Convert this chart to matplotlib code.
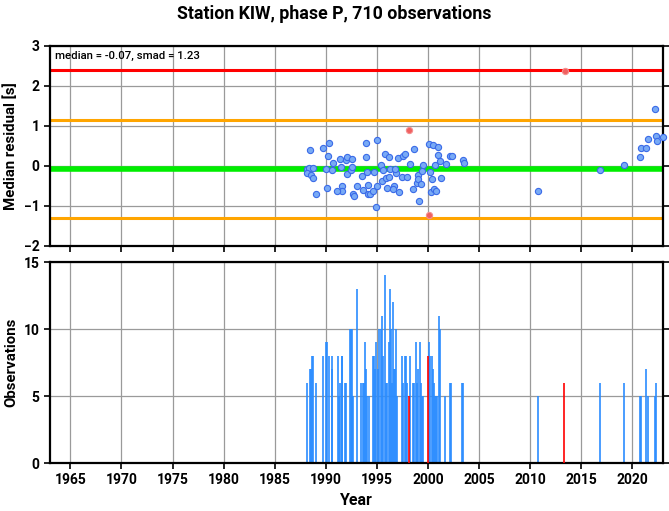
import numpy as np
import matplotlib
matplotlib.use("Agg")
import matplotlib.pyplot as plt

# === Summary values ===
station = "KIW"
phase = "P"
n_obs = 710
median = -0.07
smad = 1.23

# === Median residuals per bin (blue) ===
res_year = [1988.43, 1988.17, 1988.37, 1988.17, 1988.50, 1988.70, 1988.76, 1989.08,
            1989.74, 1990.33, 1990.26, 1990.06, 1990.16, 1990.72, 1990.65, 1991.37,
            1991.44, 1991.63, 1991.54, 1991.14, 1991.96, 1992.03, 1992.09, 1992.52,
            1992.42, 1992.61, 1992.68, 1992.78, 1993.10, 1993.50, 1993.66, 1993.92,
            1993.89, 1994.05, 1994.15, 1994.15, 1994.31, 1994.57, 1994.70, 1994.97,
            1994.87, 1995.03, 1995.36, 1995.55, 1995.46, 1995.78, 1995.88, 1996.14,
            1996.21, 1996.27, 1996.01, 1996.67, 1996.60, 1996.86, 1996.80, 1997.06,
            1997.12, 1997.45, 1997.58, 1997.78, 1997.91, 1998.24, 1998.63, 1998.56,
            1998.89, 1998.99, 1999.05, 1999.15, 1999.31, 1999.38, 1999.54, 2000.13,
            2000.20, 2000.36, 2000.33, 2000.52, 2000.62, 2000.72, 2000.78, 2001.01,
            2000.98, 2001.18, 2001.24, 2001.73, 2002.16, 2002.35, 2003.40, 2003.56,
            2010.76, 2016.87, 2019.22, 2020.79, 2020.85, 2021.31, 2021.57, 2022.23,
            2022.33, 2022.42, 2022.98]
res_val = [0.40, -0.08, -0.06, -0.18, -0.23, -0.04, -0.29, -0.69,
           0.46, 0.58, 0.25, -0.08, -0.54, 0.08, -0.09, 0.17,
           -0.02, -0.49, -0.63, -0.63, 0.15, 0.23, -0.19, 0.18,
           -0.10, -0.03, -0.70, -0.74, -0.49, -0.24, -0.60, 0.58,
           0.23, -0.15, -0.69, -0.48, -0.69, -0.62, -0.15, 0.66,
           -1.02, -0.50, 0.03, -0.09, -0.37, 0.30, -0.29, 0.23,
           -0.27, -0.07, -0.56, -0.49, -0.58, -0.17, -0.08, 0.20,
           -0.64, -0.27, 0.25, 0.30, -0.27, 0.04, 0.43, -0.58,
           -0.43, -0.23, -0.33, -0.87, -0.44, -0.12, 0.03, 0.54,
           -0.15, -0.33, -0.65, 0.52, -0.58, 0.02, -0.62, 0.48,
           0.28, 0.12, -0.29, 0.06, 0.25, 0.25, 0.16, 0.08,
           -0.62, -0.10, 0.03, 0.23, 0.45, 0.46, 0.67, 1.43,
           0.76, 0.62, 0.73]

# === Outlier bins (red) ===
out_year = [1998.10, 2000.06, 2013.40]
out_val = [0.91, -1.22, 2.37]

# === Observation counts per bin ===
cnt_year = [1988.17, 1988.43, 1988.53, 1988.66, 1988.72, 1989.08, 1989.74, 1990.03,
            1990.13, 1990.33, 1990.59, 1990.65, 1991.21, 1991.31, 1991.41, 1991.54,
            1991.63, 1991.90, 1991.96, 1992.35, 1992.45, 1992.52, 1992.61, 1992.68,
            1993.10, 1993.43, 1993.59, 1993.72, 1993.85, 1993.95, 1994.05, 1994.18,
            1994.57, 1994.70, 1994.84, 1994.93, 1995.10, 1995.23, 1995.39, 1995.46,
            1995.62, 1995.78, 1995.88, 1996.01, 1996.14, 1996.27, 1996.34, 1996.44,
            1996.60, 1996.70, 1996.80, 1996.89, 1996.99, 1997.42, 1997.58, 1997.75,
            1997.88, 1997.98, 1998.21, 1998.56, 1998.66, 1998.86, 1998.95, 1999.05,
            1999.21, 1999.28, 1999.44, 1999.54, 2000.13, 2000.20, 2000.36, 2000.46,
            2000.59, 2000.69, 2000.78, 2000.91, 2001.04, 2001.14, 2001.70, 2002.16,
            2002.29, 2003.37, 2003.47, 2010.78, 2016.86, 2019.18, 2020.78, 2020.88,
            2021.33, 2021.56, 2022.25, 2022.35, 2023.00]
cnt_val = [6, 7, 7, 8, 8, 6, 8, 9,
           9, 8, 8, 7, 8, 5, 6, 8,
           8, 6, 6, 10, 10, 10, 5, 5,
           13, 6, 6, 6, 9, 7, 5, 5,
           8, 8, 7, 9, 7, 10, 10, 11,
           8, 14, 6, 6, 9, 13, 10, 6,
           12, 7, 7, 10, 5, 8, 6, 8,
           8, 6, 8, 6, 6, 9, 6, 7,
           9, 6, 5, 5, 9, 8, 8, 7,
           6, 5, 5, 5, 11, 10, 5, 6,
           6, 6, 6, 5, 6, 6, 5, 5,
           7, 5, 5, 6, 5]
out_cnt_year = [1998.10, 2000.00, 2013.36]
out_cnt_val = [5, 8, 6]

plt.rcParams['font.family'] = ['Roboto', 'DejaVu Sans']
plt.rcParams['font.weight'] = 'bold'
plt.rcParams['axes.labelweight'] = 'bold'
plt.rcParams['figure.titleweight'] = 'bold'

fig = plt.figure(figsize=(6.69, 5.11), dpi=100)
ax1 = fig.add_axes([0.0747, 0.5186, 0.9163, 0.3914])
ax2 = fig.add_axes([0.0747, 0.0939, 0.9163, 0.3933])

for ax in (ax1, ax2):
    ax.set_xlim(1963, 2023)
    ax.set_xticks(np.arange(1965, 2021, 5))
    ax.grid(True, color='#9a9a9a', linewidth=0.9)
    ax.set_axisbelow(True)
    for s in ax.spines.values():
        s.set_linewidth(1.6)
    ax.tick_params(direction='out', length=4, width=1.2, right=True,
                   labelsize=10)

# --- top panel ---
ax1.set_ylim(-2, 3)
ax1.set_yticks(np.arange(-2, 4, 1))
ax1.tick_params(labelbottom=False)
ax1.axhline(median + 2 * smad, color='red', linewidth=2.2, zorder=2)
ax1.axhline(median + smad, color='orange', linewidth=2.2, zorder=2)
ax1.axhline(median - smad, color='orange', linewidth=2.2, zorder=2)
ax1.axhline(median, color='#00ee00', linewidth=4, zorder=2)
ax1.scatter(res_year, res_val, s=20, facecolor='#78aaf5', edgecolor='#3a6ae8',
            linewidth=0.8, zorder=3, clip_on=False)
ax1.scatter(out_year, out_val, s=20, facecolor='#f06060', edgecolor='#f49090',
            linewidth=0.8, zorder=3)
ax1.text(0.008, 0.975, f"median = {median:.2f}, smad = {smad:.2f}",
         transform=ax1.transAxes, ha='left', va='top', fontsize=8.2,
         fontweight='medium')
ax1.set_ylabel("Median residual [s]", fontsize=10.8, fontweight='bold')

# --- bottom panel ---
ax2.set_ylim(0, 15)
ax2.set_yticks([0, 5, 10, 15])
ax2.vlines(cnt_year, 0, cnt_val, color='#2a8cff', linewidth=1.4, alpha=0.85, zorder=2)
ax2.vlines(out_cnt_year, 0, out_cnt_val, color='red', linewidth=1.2, zorder=3)
ax2.set_ylabel("Observations", fontsize=10.8, fontweight='bold')
ax2.set_xlabel("Year", fontsize=11.5, fontweight='bold')

for lab in ax1.get_yticklabels() + ax2.get_xticklabels() + ax2.get_yticklabels():
    lab.set_fontweight('bold')

fig.suptitle(f"Station {station}, phase {phase}, {n_obs} observations",
             fontsize=12.8, fontweight='bold', y=0.99)

fig.savefig("out.png", dpi=100)
